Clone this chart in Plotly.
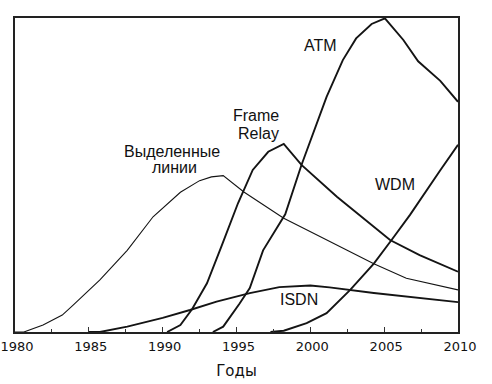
import plotly.graph_objects as go

# Data (years, relative level 0..100)
leased_years = [1980.0, 1980.6, 1981.9, 1983.2, 1983.9, 1985.75, 1987.6, 1989.35, 1991.2, 1992.5, 1993.3, 1994.1, 1995.5, 1998.2, 2000.65, 2004.3, 2006.5, 2010.0]
leased_vals = [0.0, 0.0, 2.2, 5.4, 8.4, 16.6, 26.0, 36.7, 44.5, 48.2, 49.4, 49.8, 44.6, 36.2, 30.4, 21.7, 17.1, 13.4]

isdn_years = [1985.0, 1985.75, 1987.6, 1990.0, 1991.85, 1993.65, 1995.9, 1997.9, 2000.0, 2001.3, 2004.3, 2007.4, 2010.0]
isdn_vals = [0.0, 0.0, 1.7, 4.5, 7.0, 9.7, 12.4, 14.3, 14.8, 14.2, 12.4, 10.8, 9.5]

fr_years = [1990.3, 1991.2, 1992.0, 1993.0, 1994.0, 1995.1, 1996.1, 1997.15, 1998.2, 1999.4, 2001.8, 2005.4, 2007.4, 2010.0]
fr_vals = [0.0, 2.2, 7.3, 15.5, 27.5, 41.0, 51.6, 57.4, 59.9, 53.2, 43.1, 29.3, 24.5, 19.2]

atm_years = [1993.4, 1994.1, 1995.2, 1995.9, 1996.8, 1998.3, 1999.4, 2000.0, 2001.1, 2002.2, 2003.1, 2004.15, 2005.05, 2006.3, 2007.3, 2008.8, 2010.0]
atm_vals = [0.0, 1.7, 9.0, 14.0, 26.0, 37.5, 53.2, 61.0, 74.9, 86.6, 93.5, 98.1, 99.9, 93.0, 86.2, 80.0, 73.3]

wdm_years = [1997.3, 1998.2, 1999.75, 2001.1, 2002.7, 2004.3, 2005.5, 2006.75, 2008.8, 2010.0]
wdm_vals = [0.0, 0.4, 2.8, 6.0, 13.4, 21.8, 29.3, 37.3, 51.5, 59.6]

tick_years = [1980, 1985, 1990, 1995, 2000, 2005, 2010]
tick_labels = ["1980", "1985", "1990", "1995", "2000", "2005", "2010"]
x_title = "Годы"

labels = [
    ("Выделенные", 1990.61, 57.5),
    ("линии", 1990.83, 52.4),
    ("Frame", 1996.32, 68.8),
    ("Relay", 1996.51, 63.1),
    ("ATM", 2000.72, 91.2),
    ("WDM", 2005.71, 47.1),
    ("ISDN", 1999.25, 10.5),
]

INK = "#141414"
fig = go.Figure()
fig.add_trace(go.Scatter(x=leased_years, y=leased_vals, mode="lines",
                         line=dict(color=INK, width=1.1), hoverinfo="skip"))
fig.add_trace(go.Scatter(x=isdn_years, y=isdn_vals, mode="lines",
                         line=dict(color=INK, width=1.9), hoverinfo="skip"))
fig.add_trace(go.Scatter(x=fr_years, y=fr_vals, mode="lines",
                         line=dict(color=INK, width=1.9), hoverinfo="skip"))
fig.add_trace(go.Scatter(x=atm_years, y=atm_vals, mode="lines",
                         line=dict(color=INK, width=1.9), hoverinfo="skip"))
fig.add_trace(go.Scatter(x=wdm_years, y=wdm_vals, mode="lines",
                         line=dict(color=INK, width=1.9), hoverinfo="skip"))

for txt, lx, ly in labels:
    fig.add_annotation(x=lx, y=ly, xref="x", yref="y", text=txt, showarrow=False,
                       font=dict(family="Liberation Sans, Arial", size=16, color="#111"),
                       xanchor="center", yanchor="middle")

fig.update_layout(
    width=492, height=384,
    margin=dict(l=15, r=34, t=18, b=52, autoexpand=False),
    paper_bgcolor="white", plot_bgcolor="white",
    showlegend=False,
)
fig.update_xaxes(
    range=[1980, 2010], tickvals=tick_years, ticktext=tick_labels,
    ticks="inside", ticklen=5, tickcolor="#333", tickwidth=1,
    minor=dict(dtick=2.5, tick0=1980, ticks="inside", ticklen=3, tickcolor="#333"),
    showline=True, linecolor="#222", linewidth=1.5, mirror=True,
    showgrid=False, zeroline=False, automargin=False,
    ticklabeloverflow="allow", ticklabelshift=2, ticklabelstandoff=2,
    tickfont=dict(family="DejaVu Sans", size=13, color="#111"),
    title=dict(text=x_title, font=dict(family="DejaVu Sans", size=15, color="#111"), standoff=12),
)
fig.update_yaxes(
    range=[0, 100], showticklabels=False, ticks="",
    showline=True, linecolor="#222", linewidth=1.5, mirror=True,
    showgrid=False, zeroline=False, automargin=False,
)

fig.write_html("out.html", config={"displayModeBar": False},
               post_script="document.body.style.margin='0';document.body.style.padding='0';")
